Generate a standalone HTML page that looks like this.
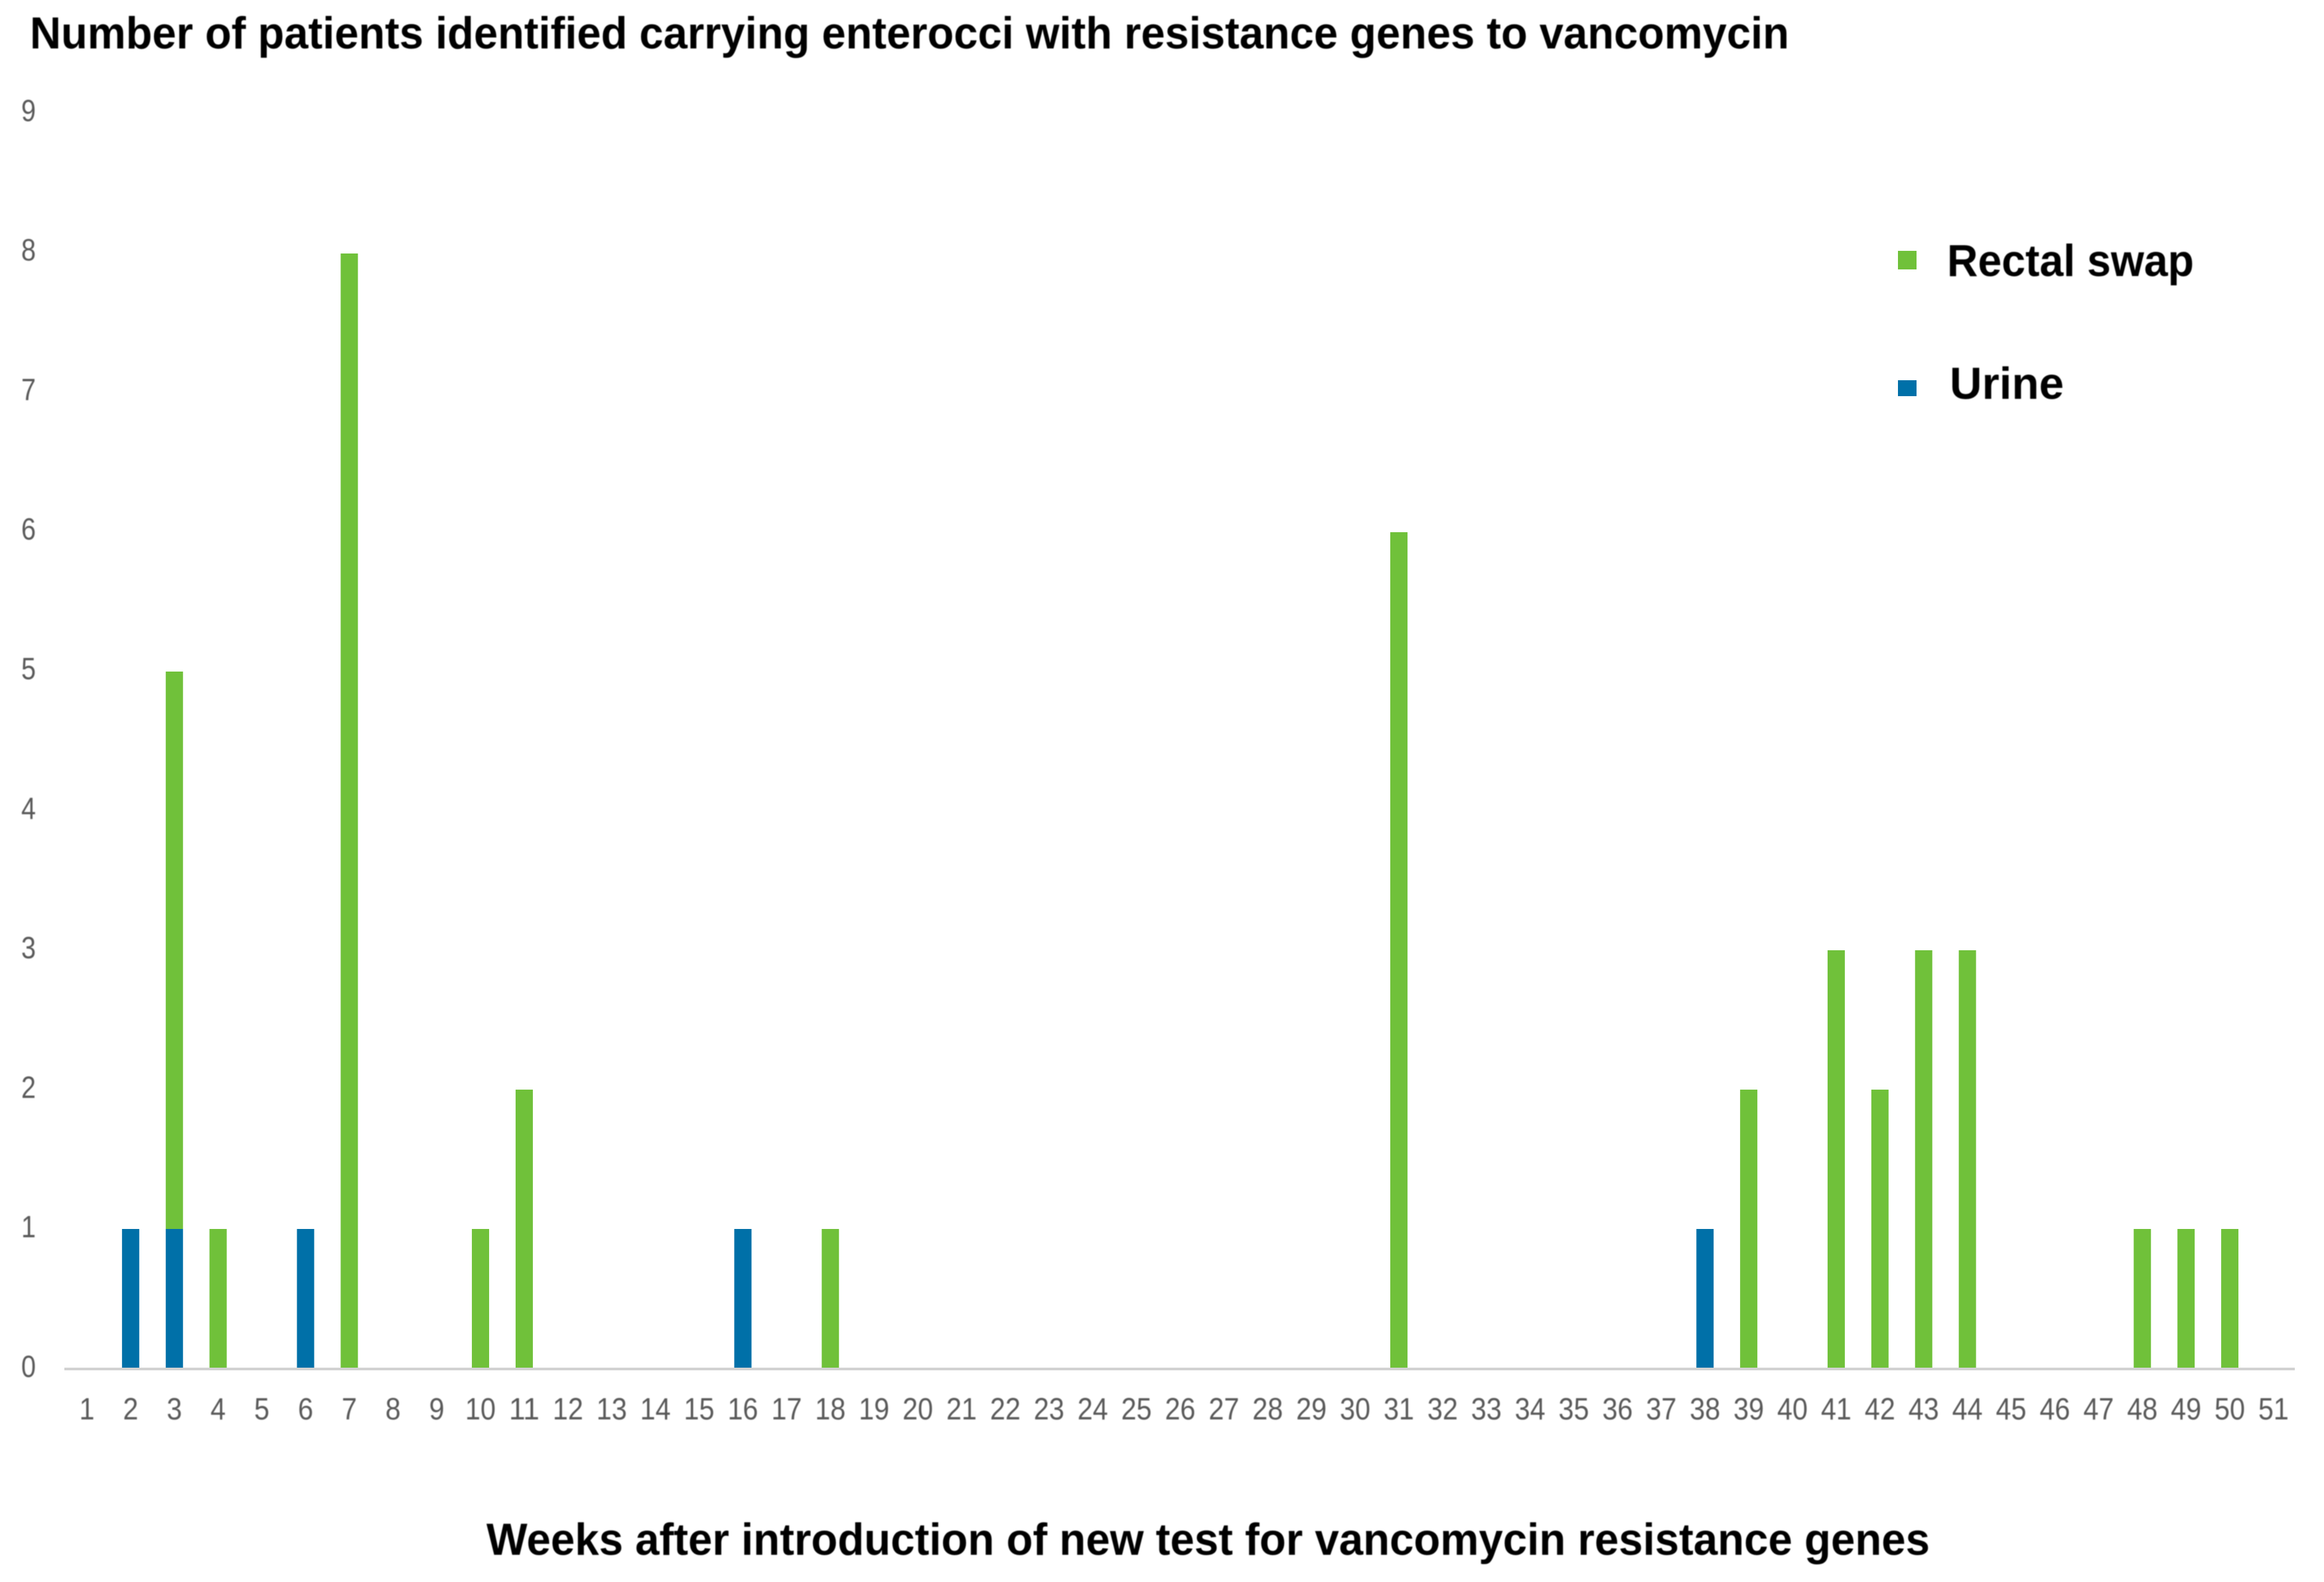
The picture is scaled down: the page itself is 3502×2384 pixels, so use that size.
<!DOCTYPE html>
<html lang="en">
<head>
<meta charset="utf-8">
<title>Patients carrying enterococci with vancomycin resistance genes</title>
<style>
html,body{margin:0;padding:0;background:#fff;width:3502px;height:2384px;overflow:hidden}
svg{display:block;font-family:"Liberation Sans",sans-serif}
.head{font-weight:700;font-size:68px;fill:#000;filter:blur(0.8px)}
.tick{font-size:46px;fill:#595959;filter:blur(0.8px)}
</style>
</head>
<body>
<svg id="chart" xmlns="http://www.w3.org/2000/svg" width="3502" height="2384" viewBox="0 0 3502 2384">
<rect x="0" y="0" width="3502" height="2384" fill="#ffffff"/>
<text class="head" x="45" y="73" textLength="2651" lengthAdjust="spacingAndGlyphs">Number of patients identified carrying enterocci with resistance genes to vancomycin</text>
<g id="y-ticks"></g>
<g id="x-ticks"></g>
<g id="bars"></g>
<line x1="97" y1="2063" x2="3458" y2="2063" stroke="#d2d2d2" stroke-width="4"/>
<text class="head" x="733" y="2343" textLength="2175" lengthAdjust="spacingAndGlyphs">Weeks after introduction of new test for vancomycin resistance genes</text>
<g>
<rect x="2860" y="378" width="28" height="28" fill="#70c13a"/>
<text class="head" x="2934" y="416" textLength="372" lengthAdjust="spacingAndGlyphs">Rectal swap</text>
<rect x="2860" y="573" width="28" height="24" fill="#0070a8"/>
<text class="head" x="2938" y="601" textLength="172" lengthAdjust="spacingAndGlyphs">Urine</text>
</g>
</svg>
<script>
const weeks = [1,2,3,4,5,6,7,8,9,10,11,12,13,14,15,16,17,18,19,20,21,22,23,24,25,26,27,28,29,30,31,32,33,34,35,36,37,38,39,40,41,42,43,44,45,46,47,48,49,50,51];
const urine = [0,1,1,0,0,1,0,0,0,0,0,0,0,0,0,1,0,0,0,0,0,0,0,0,0,0,0,0,0,0,0,0,0,0,0,0,0,1,0,0,0,0,0,0,0,0,0,0,0,0,0];
const rectalSwap = [0,0,4,1,0,0,8,0,0,1,2,0,0,0,0,0,0,1,0,0,0,0,0,0,0,0,0,0,0,0,6,0,0,0,0,0,0,0,2,0,3,2,3,3,0,0,0,1,1,1,0];
const yTickLabels = [0,1,2,3,4,5,6,7,8,9];

const NS = 'http://www.w3.org/2000/svg';
function xCenter(i) { return 98 + 65.9 * (i + 0.5); }
function yValue(v) { return 2062 - 210 * v; }
function yTickBaseline(v) { return 2075 - 210.3 * v; }

const yGroup = document.getElementById('y-ticks');
yTickLabels.forEach(function (v) {
  const t = document.createElementNS(NS, 'text');
  
  
  t.setAttribute('class', 'tick');
  t.setAttribute('x', 32);
  t.setAttribute('y', yTickBaseline(v));
  t.setAttribute('textLength', 22);
  t.setAttribute('lengthAdjust', 'spacingAndGlyphs');
  t.textContent = String(v);
  yGroup.appendChild(t);
});

const xGroup = document.getElementById('x-ticks');
weeks.forEach(function (w, i) {
  const t = document.createElementNS(NS, 'text');
  const len = String(w).length * 23;
  
  
  t.setAttribute('class', 'tick');
  t.setAttribute('x', xCenter(i) - len / 2);
  t.setAttribute('y', 2139);
  t.setAttribute('textLength', len);
  t.setAttribute('lengthAdjust', 'spacingAndGlyphs');
  t.textContent = String(w);
  xGroup.appendChild(t);
});

const barGroup = document.getElementById('bars');
const barWidth = 26;
weeks.forEach(function (w, i) {
  if (urine[i] > 0) {
    const r = document.createElementNS(NS, 'rect');
    
    
    r.setAttribute('x', xCenter(i) - barWidth / 2);
    r.setAttribute('y', yValue(urine[i]));
    r.setAttribute('width', barWidth);
    r.setAttribute('height', yValue(0) - yValue(urine[i]));
    r.setAttribute('fill', '#0070a8');
    barGroup.appendChild(r);
  }
  if (rectalSwap[i] > 0) {
    const r = document.createElementNS(NS, 'rect');
    
    
    r.setAttribute('x', xCenter(i) - barWidth / 2);
    r.setAttribute('y', yValue(urine[i] + rectalSwap[i]));
    r.setAttribute('width', barWidth);
    r.setAttribute('height', yValue(urine[i]) - yValue(urine[i] + rectalSwap[i]));
    r.setAttribute('fill', '#70c13a');
    barGroup.appendChild(r);
  }
});
</script>
</body>
</html>
